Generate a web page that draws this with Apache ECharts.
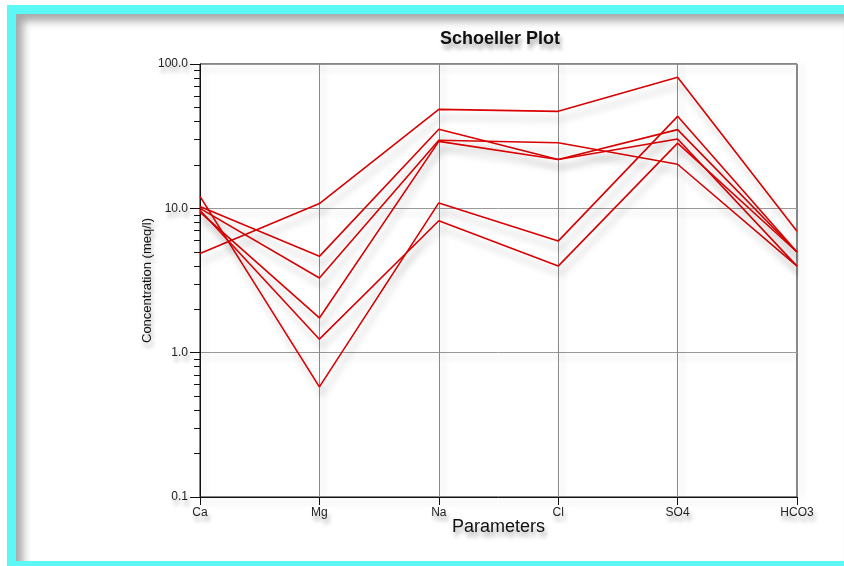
<!DOCTYPE html>
<html>
<head>
<meta charset="utf-8">
<script src="https://cdn.jsdelivr.net/npm/echarts@6/dist/echarts.min.js"></script>
<style>
  html, body { margin: 0; padding: 0; background: #fff; }
  #frame { position: absolute; left: 7px; top: 5px; width: 837px; height: 561px; background: #5cf8f6; }
  #panel { position: absolute; left: 16px; top: 14px; width: 828px; height: 547px; background: #fff;
           box-shadow: inset 7px 7px 8px rgba(0,0,0,0.35); }
  #chart { position: absolute; left: 0; top: 0; width: 844px; height: 566px; }
</style>
</head>
<body>
<div id="frame"></div>
<div id="panel"></div>
<div id="chart"></div>
<script>
// parameters on the x axis
const categories = ['Ca', 'Mg', 'Na', 'Cl', 'SO4', 'HCO3']

// concentrations (meq/l), one array per sample
const sample1 = [4.86, 10.8, 48.5, 47.0, 80.9, 6.93]
const sample2 = [10.3, 4.65, 35.3, 21.8, 35.1, 4.98]
const sample3 = [10.0, 3.29, 29.6, 28.5, 20.2, 3.98]
const sample4 = [9.4, 1.74, 29.1, 21.8, 30.2, 3.98]
const sample5 = [12.1, 0.58, 10.9, 5.93, 43.4, 4.98]
const sample6 = [9.7, 1.24, 8.2, 3.98, 28.3, 4.98]

// y axis decades and the 2..9 minor ticks between them
const decades = [0.1, 1, 10, 100]
const minorSteps = [2, 3, 4, 5, 6, 7, 8, 9]

const samples = [sample1, sample2, sample3, sample4, sample5, sample6]
const minorTicks = []
decades.slice(0, -1).forEach(d => {
  minorSteps.forEach(k => minorTicks.push(Math.log10(d * k)))
})

const textShadow = {
  textShadowColor: 'rgba(0,0,0,0.35)',
  textShadowBlur: 4,
  textShadowOffsetX: 2,
  textShadowOffsetY: 5
}

const chart = echarts.init(document.getElementById('chart'))
chart.setOption({
  animation: false,
  title: {
    text: 'Schoeller Plot',
    left: 495,
    textAlign: 'center',
    top: 25,
    textStyle: Object.assign({
      fontFamily: 'Liberation Sans',
      fontSize: 18,
      fontWeight: 'bold',
      color: '#111'
    }, textShadow)
  },
  grid: {
    left: 200, right: 47, top: 64, bottom: 69,
    show: true,
    borderColor: '#111',
    borderWidth: 1
  },
  xAxis: {
    type: 'category',
    data: categories,
    boundaryGap: false,
    name: 'Parameters',
    nameLocation: 'middle',
    nameGap: 21,
    nameMoveOverlap: false,
    nameTextStyle: Object.assign({
      fontFamily: 'Liberation Sans', fontSize: 18, color: '#111'
    }, textShadow),
    axisLine: { onZero: false, lineStyle: { color: '#111', width: 1 } },
    axisTick: { show: true, length: 8, alignWithLabel: true, lineStyle: { color: '#111' } },
    axisLabel: Object.assign({
      fontFamily: 'Liberation Sans', fontSize: 12, color: '#222', margin: 10
    }, textShadow),
    splitLine: {
      show: true,
      lineStyle: { color: '#8a8a8a', width: 1, shadowColor: 'rgba(0,0,0,0.2)', shadowBlur: 6, shadowOffsetX: 4, shadowOffsetY: 0 }
    }
  },
  yAxis: [
    {
      type: 'log',
      logBase: 10,
      min: decades[0],
      max: decades[decades.length - 1],
      name: 'Concentration (meq/l)',
      nameLocation: 'middle',
      nameRotate: 90,
      nameGap: 46,
      nameMoveOverlap: false,
      nameTextStyle: Object.assign({
        fontFamily: 'Liberation Sans', fontSize: 13, color: '#111'
      }, textShadow),
      axisLine: { show: true, lineStyle: { color: '#111', width: 1 } },
      axisTick: { show: true, length: 10, lineStyle: { color: '#111' } },
      axisLabel: Object.assign({
        fontFamily: 'Liberation Sans', fontSize: 12, color: '#222', margin: 12,
        formatter: v => Number(v).toFixed(1)
      }, textShadow),
      splitLine: {
        show: true,
        lineStyle: { color: '#9a9a9a', width: 1, shadowColor: 'rgba(0,0,0,0.2)', shadowBlur: 6, shadowOffsetY: 5 }
      }
    },
    {
      type: 'value',
      min: Math.log10(decades[0]),
      max: Math.log10(decades[decades.length - 1]),
      position: 'left',
      axisLine: { show: false },
      axisLabel: { show: false },
      splitLine: { show: false },
      axisTick: { show: true, length: 6, customValues: minorTicks, lineStyle: { color: '#111' } }
    }
  ],
  series: samples.map((s, i) => ({
    name: 'Sample ' + (i + 1),
    type: 'line',
    data: s,
    yAxisIndex: 0,
    symbol: 'none',
    lineStyle: {
      color: '#d80000',
      width: 1.6,
      shadowColor: 'rgba(0,0,0,0.28)',
      shadowBlur: 7,
      shadowOffsetX: 3,
      shadowOffsetY: 8
    }
  }))
})
</script>
</body>
</html>
